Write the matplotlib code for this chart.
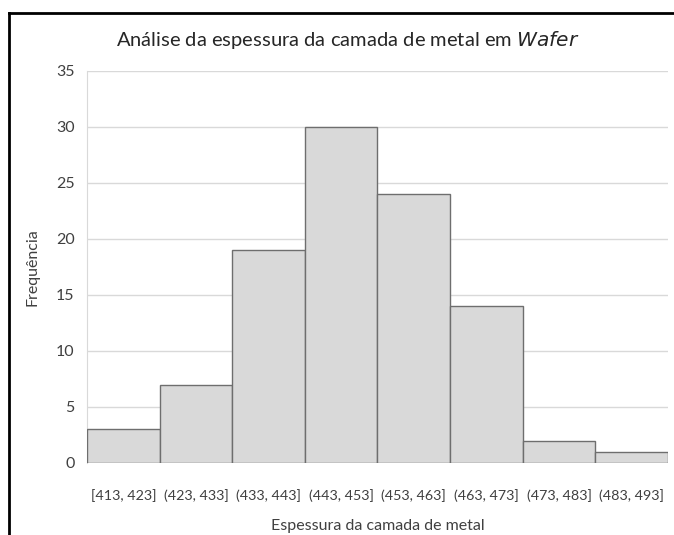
import matplotlib
matplotlib.use("Agg")
import matplotlib.pyplot as plt
from matplotlib.lines import Line2D

categories = ["[413, 423]", "(423, 433]", "(433, 443]", "(443, 453]",
              "(453, 463]", "(463, 473]", "(473, 483]", "(483, 493]"]
frequencies = [3, 7, 19, 30, 24, 14, 2, 1]
yticks = [0, 5, 10, 15, 20, 25, 30, 35]

plt.rcParams['font.family'] = ['Lato', 'DejaVu Sans']

W, H = 674, 535
fig = plt.figure(figsize=(W / 100, H / 100), dpi=100)
fig.patch.set_facecolor("white")

left, right, bottom, top = 87, 668, 463, 71
ax = fig.add_axes([left / W, 1 - bottom / H, (right - left) / W, (bottom - top) / H])

x = list(range(len(categories)))
ax.bar(x, frequencies, width=1.0, color="#d9d9d9", edgecolor="#6e6e6e", linewidth=1.0, zorder=3)
ax.set_xlim(-0.5, len(categories) - 0.5)
ax.set_ylim(0, 35)
ax.set_yticks(yticks)
ax.set_xticks(x)
ax.set_xticklabels(categories)
ax.yaxis.grid(True, color="#d9d9d9", linewidth=1.0, zorder=0)
ax.set_axisbelow(True)
for s in ["top", "right", "bottom"]:
    ax.spines[s].set_visible(False)
ax.spines["left"].set_color("#d9d9d9")
ax.tick_params(axis="y", length=0, labelsize=11.5, colors="#404040", pad=9)
ax.tick_params(axis="x", length=0, labelsize=10.3, colors="#404040", pad=19)

ax.set_xlabel("Espessura da camada de metal", fontsize=11.5, color="#404040", labelpad=12)
ax.set_ylabel("Frequência", fontsize=11.5, color="#404040", labelpad=12)

fig.text(116 / W, 1 - 40 / H, "Análise da espessura da camada de metal em $\\it{Wafer}$",
         fontsize=14.5, color="#262626", ha="left", va="center")

# black border lines (left and top)
fig.add_artist(Line2D([9 / W, 9 / W], [0, 1 - 13 / H], transform=fig.transFigure, color="black", linewidth=2))
fig.add_artist(Line2D([9 / W, 1], [1 - 13 / H, 1 - 13 / H], transform=fig.transFigure, color="black", linewidth=2))

fig.savefig("out.png", dpi=100)
